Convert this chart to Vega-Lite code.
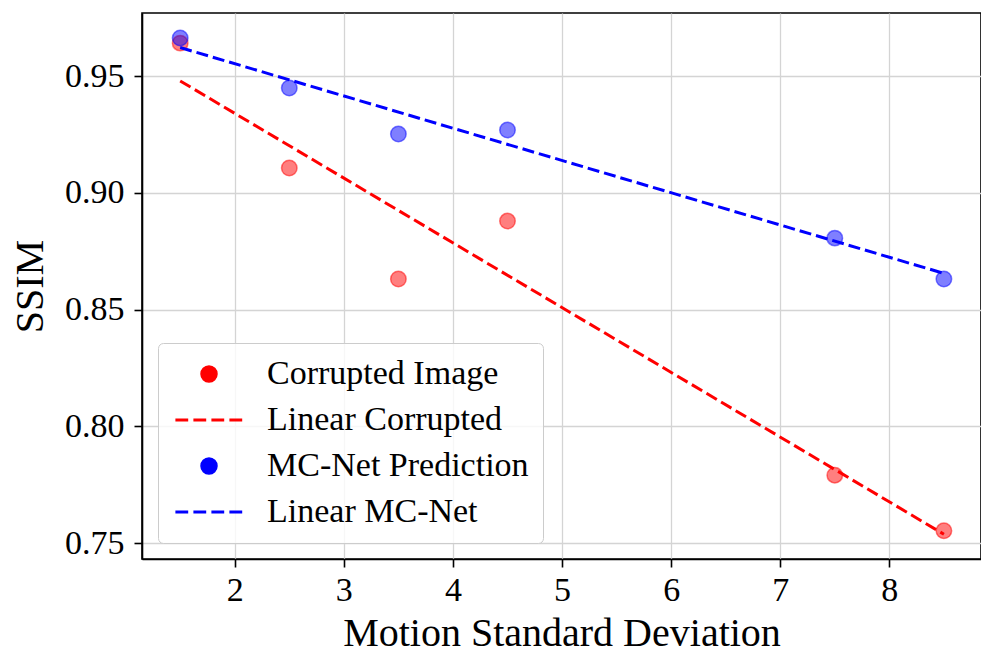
{
  "$schema": "https://vega.github.io/schema/vega-lite/v6.json",
  "width": 839,
  "height": 546,
  "autosize": {"type": "none"},
  "padding": {"left": 142, "top": 13, "right": 0, "bottom": 90},
  "background": "white",
  "config": {
    "font": "Liberation Serif",
    "view": {"stroke": "black", "strokeWidth": 1.6},
    "axis": {
      "labelFont": "Liberation Serif",
      "titleFont": "Liberation Serif",
      "labelFontSize": 34,
      "titleFontSize": 40,
      "titleFontWeight": "normal",
      "labelColor": "black",
      "titleColor": "black",
      "domainColor": "black",
      "domainWidth": 1.6,
      "tickColor": "black",
      "tickWidth": 1.6,
      "tickSize": 8,
      "gridColor": "#d4d4d4",
      "gridWidth": 1.3,
      "labelPadding": 10
    },
    "legend": {
      "labelFont": "Liberation Serif",
      "labelFontSize": 34,
      "labelColor": "black",
      "labelLimit": 500
    }
  },
  "datasets": {
    "dots": [
      {"x": 1.5, "ssim": 0.9641, "series": "Corrupted Image"},
      {"x": 2.5, "ssim": 0.9106, "series": "Corrupted Image"},
      {"x": 3.5, "ssim": 0.8631, "series": "Corrupted Image"},
      {"x": 4.5, "ssim": 0.8879, "series": "Corrupted Image"},
      {"x": 7.5, "ssim": 0.7791, "series": "Corrupted Image"},
      {"x": 8.5, "ssim": 0.7553, "series": "Corrupted Image"},
      {"x": 1.5, "ssim": 0.9663, "series": "MC-Net Prediction"},
      {"x": 2.5, "ssim": 0.9449, "series": "MC-Net Prediction"},
      {"x": 3.5, "ssim": 0.9252, "series": "MC-Net Prediction"},
      {"x": 4.5, "ssim": 0.9269, "series": "MC-Net Prediction"},
      {"x": 7.5, "ssim": 0.8806, "series": "MC-Net Prediction"},
      {"x": 8.5, "ssim": 0.8631, "series": "MC-Net Prediction"}
    ],
    "fits": [
      {"x": 1.5, "ssim": 0.9479, "series": "Linear Corrupted"},
      {"x": 8.5, "ssim": 0.7538, "series": "Linear Corrupted"},
      {"x": 1.5, "ssim": 0.9622, "series": "Linear MC-Net"},
      {"x": 8.5, "ssim": 0.8655, "series": "Linear MC-Net"}
    ]
  },
  "layer": [
    {
      "data": {"name": "dots"},
      "mark": {"type": "point", "size": 240, "opacity": 1},
      "encoding": {
        "x": {
          "field": "x", "type": "quantitative",
          "scale": {"domain": [1.15, 8.84], "nice": false, "zero": false},
          "axis": {"values": [2, 3, 4, 5, 6, 7, 8], "format": "d", "title": "Motion Standard Deviation", "labelPadding": 6, "titlePadding": 6}
        },
        "y": {
          "field": "ssim", "type": "quantitative",
          "scale": {"domain": [0.7432, 0.977], "nice": false, "zero": false},
          "axis": {"values": [0.75, 0.8, 0.85, 0.9, 0.95], "format": ".2f", "title": "SSIM", "titlePadding": 14}
        },
        "fill": {
          "field": "series", "type": "nominal",
          "scale": {
            "domain": ["Corrupted Image", "Linear Corrupted", "MC-Net Prediction", "Linear MC-Net"],
            "range": ["#ff0000", "transparent", "#0000ff", "transparent"]
          },
          "legend": {
            "title": null,
            "orient": "bottom-left",
            "offset": 16,
            "padding": 14,
            "symbolSize": 256,
            "symbolOffset": 20,
            "labelOffset": 41,
            "rowPadding": 12,
            "strokeColor": "#cccccc",
            "cornerRadius": 5,
            "fillColor": "rgba(255,255,255,0.8)",
            "encode": {"symbols": {"update": {"fillOpacity": {"scale": "fillOpacity", "field": "value"}, "strokeOpacity": {"scale": "strokeOpacity", "field": "value"}}}}
          }
        },
        "stroke": {
          "field": "series", "type": "nominal",
          "scale": {
            "domain": ["Corrupted Image", "Linear Corrupted", "MC-Net Prediction", "Linear MC-Net"],
            "range": ["#ff0000", "#ff0000", "#0000ff", "#0000ff"]
          },
          "legend": {"title": null, "encode": {"symbols": {"update": {"fillOpacity": {"scale": "fillOpacity", "field": "value"}, "strokeOpacity": {"scale": "strokeOpacity", "field": "value"}}}}}
        },
        "shape": {
          "field": "series", "type": "nominal",
          "scale": {
            "domain": ["Corrupted Image", "Linear Corrupted", "MC-Net Prediction", "Linear MC-Net"],
            "range": ["circle", "M-4.2,0H-2.6M-1.95,0H-0.35M0.3,0H1.9M2.55,0H4.15", "circle", "M-4.2,0H-2.6M-1.95,0H-0.35M0.3,0H1.9M2.55,0H4.15"]
          },
          "legend": {"title": null, "encode": {"symbols": {"update": {"fillOpacity": {"scale": "fillOpacity", "field": "value"}, "strokeOpacity": {"scale": "strokeOpacity", "field": "value"}}}}}
        },
        "fillOpacity": {
          "field": "series", "type": "nominal",
          "scale": {
            "type": "ordinal",
            "domain": ["Corrupted Image", "Linear Corrupted", "MC-Net Prediction", "Linear MC-Net"],
            "range": [0.5, 0, 0.5, 0]
          },
          "legend": {"title": null, "encode": {"symbols": {"update": {"fillOpacity": {"scale": "fillOpacity", "field": "value"}, "strokeOpacity": {"scale": "strokeOpacity", "field": "value"}}}}}
        },
        "strokeOpacity": {
          "field": "series", "type": "nominal",
          "scale": {
            "type": "ordinal",
            "domain": ["Corrupted Image", "Linear Corrupted", "MC-Net Prediction", "Linear MC-Net"],
            "range": [0.5, 1, 0.5, 1]
          },
          "legend": {"title": null, "encode": {"symbols": {"update": {"fillOpacity": {"scale": "fillOpacity", "field": "value"}, "strokeOpacity": {"scale": "strokeOpacity", "field": "value"}}}}}
        },
        "strokeWidth": {
          "field": "series", "type": "nominal",
          "scale": {
            "type": "ordinal",
            "domain": ["Corrupted Image", "Linear Corrupted", "MC-Net Prediction", "Linear MC-Net"],
            "range": [1.5, 3, 1.5, 3]
          },
          "legend": {"title": null, "encode": {"symbols": {"update": {"fillOpacity": {"scale": "fillOpacity", "field": "value"}, "strokeOpacity": {"scale": "strokeOpacity", "field": "value"}}}}}
        }
      }
    },
    {
      "data": {"name": "fits"},
      "mark": {"type": "line", "strokeDash": [12, 5]},
      "encoding": {
        "x": {"field": "x", "type": "quantitative"},
        "y": {"field": "ssim", "type": "quantitative"},
        "stroke": {"field": "series", "type": "nominal", "legend": null},
        "strokeOpacity": {"field": "series", "type": "nominal", "scale": {"type": "ordinal"}, "legend": null},
        "strokeWidth": {"field": "series", "type": "nominal", "scale": {"type": "ordinal"}, "legend": null}
      }
    }
  ]
}
